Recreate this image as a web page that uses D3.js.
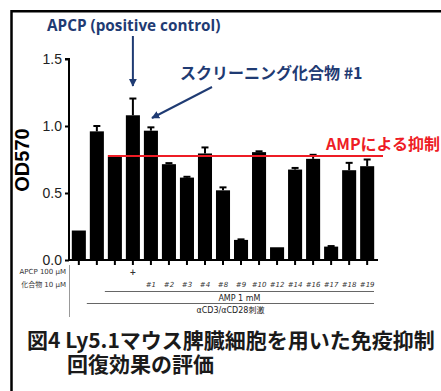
<!DOCTYPE html>
<html>
<head>
<meta charset="utf-8">
<script src="https://cdn.jsdelivr.net/npm/d3@7"></script>
<style>
  body { margin: 0; background: #fff; }
  svg { display: block; }
</style>
</head>
<body>
<div id="chart"></div>
<script>
// values (OD570, mean and error)
var groups = ["none", "stim", "AMP", "APCP", "#1", "#2", "#3", "#4", "#8", "#9", "#10", "#12", "#14", "#16", "#17", "#18", "#19"]
var od570 = [0.22, 0.96, 0.77, 1.08, 0.965, 0.715, 0.615, 0.795, 0.52, 0.15, 0.805, 0.095, 0.675, 0.755, 0.10, 0.67, 0.70]
var errs = [0, 0.04, 0, 0.125, 0.025, 0.008, 0.006, 0.045, 0.022, 0.004, 0.006, 0, 0.012, 0.03, 0.004, 0.055, 0.05]
var apcpRow = ["", "", "", "+", "", "", "", "", "", "", "", "", "", "", "", "", ""]
var compoundRow = ["", "", "", "", "#1", "#2", "#3", "#4", "#8", "#9", "#10", "#12", "#14", "#16", "#17", "#18", "#19"]
var yTicks = [0, 0.5, 1.0, 1.5]
var ampLevel = 0.776

var W = 441, H = 391
var navy = "#1f3b73", red = "#ee1c25"

var svg = d3.select("#chart").append("svg")
  .attr("width", W).attr("height", H)

// frame
svg.append("path")
  .attr("d", "M11.5,391V11.2H441")
  .attr("fill", "none").attr("stroke", "#000").attr("stroke-width", 2.5)

var x = d3.scaleBand()
  .domain(d3.range(groups.length))
  .range([70, 376])
  .paddingInner(0.22)
  .paddingOuter(0.1)

var y = d3.scaleLinear().domain([0, 1.5]).range([260, 59])

// y axis
var yAxis = svg.append("g")
  .attr("transform", "translate(69,0)")
  .call(d3.axisLeft(y).tickValues(yTicks).tickFormat(d3.format(".1f")).tickSize(4).tickPadding(3))
yAxis.select(".domain").attr("stroke-width", 2).attr("d", "M-4," + y(1.5) + "H0V" + y(0))
yAxis.selectAll(".tick line").attr("stroke-width", 2)
yAxis.selectAll(".tick text")
  .style("font-family", "Liberation Sans, Arial, sans-serif")
  .style("font-size", "14px").attr("fill", "#222")

svg.append("text")
  .attr("transform", "translate(29,160) rotate(-90)")
  .attr("text-anchor", "middle")
  .style("font-family", "Liberation Sans, Arial, sans-serif")
  .style("font-weight", "bold").style("font-size", "20px")
  .text("OD570")

// bars
svg.selectAll(".bar")
  .data(od570)
  .enter().append("rect")
  .attr("class", "bar")
  .attr("x", (d, i) => x(i))
  .attr("width", x.bandwidth())
  .attr("y", d => y(d))
  .attr("height", d => y(0) - y(d))
  .attr("fill", "#000")

// error bars
var eb = svg.selectAll(".err")
  .data(od570.map((v, i) => ({i: i, v: v, e: errs[i]})).filter(d => d.e > 0))
  .enter().append("g").attr("class", "err")
eb.append("line")
  .attr("x1", d => x(d.i) + x.bandwidth() / 2)
  .attr("x2", d => x(d.i) + x.bandwidth() / 2)
  .attr("y1", d => y(d.v))
  .attr("y2", d => y(d.v + d.e))
  .attr("stroke", "#000").attr("stroke-width", 2)
eb.append("line")
  .attr("x1", d => x(d.i) + x.bandwidth() / 2 - 3.5)
  .attr("x2", d => x(d.i) + x.bandwidth() / 2 + 3.5)
  .attr("y1", d => y(d.v + d.e))
  .attr("y2", d => y(d.v + d.e))
  .attr("stroke", "#000").attr("stroke-width", 2)

// x axis line and ticks
svg.append("line")
  .attr("x1", 68).attr("x2", 378)
  .attr("y1", y(0)).attr("y2", y(0))
  .attr("stroke", "#000").attr("stroke-width", 2)
svg.selectAll(".xt")
  .data(groups)
  .enter().append("line")
  .attr("x1", (d, i) => x(i) + x.bandwidth() / 2)
  .attr("x2", (d, i) => x(i) + x.bandwidth() / 2)
  .attr("y1", y(0)).attr("y2", y(0) + 5)
  .attr("stroke", "#000").attr("stroke-width", 2)

// AMP inhibition line
svg.append("line")
  .attr("x1", x(2)).attr("x2", 383)
  .attr("y1", y(ampLevel)).attr("y2", y(ampLevel))
  .attr("stroke", red).attr("stroke-width", 2)
svg.append("text")
  .attr("x", 326).attr("y", 150)
  .attr("fill", red)
  .style("font-family", "Noto Sans CJK JP, sans-serif")
  .style("font-weight", "bold").style("font-size", "16px")
  .text("AMPによる抑制")

// condition table under the axis
var small = "DejaVu Sans, Noto Sans CJK JP, sans-serif"
svg.append("line")
  .attr("x1", 69.5).attr("x2", 69.5).attr("y1", 265).attr("y2", 317)
  .attr("stroke", "#999").attr("stroke-width", 1)
svg.append("text").attr("x", 66).attr("y", 274).attr("text-anchor", "end")
  .style("font-family", small).style("font-size", "7px").attr("fill", "#333")
  .text("APCP 100 μM")
svg.append("text").attr("x", 66).attr("y", 287).attr("text-anchor", "end")
  .style("font-family", small).style("font-size", "7px").attr("fill", "#333")
  .text("化合物 10 μM")
svg.selectAll(".apcp").data(apcpRow).enter().append("text")
  .attr("x", (d, i) => x(i) + x.bandwidth() / 2).attr("y", 275)
  .attr("text-anchor", "middle")
  .style("font-family", small).style("font-size", "8px").style("font-weight", "bold").attr("fill", "#333")
  .text(d => d)
svg.selectAll(".cmp").data(compoundRow).enter().append("text")
  .attr("x", (d, i) => x(i) + x.bandwidth() / 2).attr("y", 287)
  .attr("text-anchor", "middle")
  .style("font-family", small).style("font-size", "7px").style("font-style", "italic").attr("fill", "#333")
  .text(d => d)

svg.append("line")
  .attr("x1", x(2) - 3).attr("x2", 374).attr("y1", 291.5).attr("y2", 291.5)
  .attr("stroke", "#666").attr("stroke-width", 1)
svg.append("text").attr("x", (x(2) - 3 + 374) / 2).attr("y", 300.5).attr("text-anchor", "middle")
  .style("font-family", small).style("font-size", "8px").attr("fill", "#222")
  .text("AMP 1 mM")
svg.append("line")
  .attr("x1", x(1) - 3).attr("x2", 374).attr("y1", 303.5).attr("y2", 303.5)
  .attr("stroke", "#666").attr("stroke-width", 1)
svg.append("text").attr("x", (x(1) - 3 + 374) / 2).attr("y", 313).attr("text-anchor", "middle")
  .style("font-family", small).style("font-size", "8px").attr("fill", "#222")
  .text("αCD3/αCD28刺激")

// annotations
var defs = svg.append("defs")
defs.append("marker")
  .attr("id", "ah").attr("viewBox", "0 0 10 10")
  .attr("refX", 9).attr("refY", 5)
  .attr("markerWidth", 4).attr("markerHeight", 4)
  .attr("orient", "auto")
  .append("path").attr("d", "M0,0L10,5L0,10z").attr("fill", navy)

svg.append("text")
  .attr("x", 47).attr("y", 31)
  .attr("fill", navy)
  .style("font-family", "Open Sans, sans-serif")
  .style("font-weight", "bold").style("font-size", "15.3px")
  .text("APCP (positive control)")
svg.append("line")
  .attr("x1", x(3) + x.bandwidth() / 2).attr("x2", x(3) + x.bandwidth() / 2)
  .attr("y1", 36).attr("y2", 86)
  .attr("stroke", navy).attr("stroke-width", 2)
  .attr("marker-end", "url(#ah)")

svg.append("text")
  .attr("x", 180).attr("y", 79)
  .attr("fill", navy)
  .style("font-family", "Noto Sans CJK JP, sans-serif")
  .style("font-weight", "bold").style("font-size", "16px")
  .text("スクリーニング化合物 #1")
svg.append("line")
  .attr("x1", 212).attr("x2", 152)
  .attr("y1", 87).attr("y2", 118)
  .attr("stroke", navy).attr("stroke-width", 2)
  .attr("marker-end", "url(#ah)")

// caption
svg.append("text")
  .attr("x", 27).attr("y", 348)
  .attr("fill", "#1a1a1a")
  .style("font-family", "Noto Sans CJK JP, sans-serif")
  .style("font-weight", "bold").style("font-size", "21px")
  .text("図4 Ly5.1マウス脾臓細胞を用いた免疫抑制")
svg.append("text")
  .attr("x", 67).attr("y", 372)
  .attr("fill", "#1a1a1a")
  .style("font-family", "Noto Sans CJK JP, sans-serif")
  .style("font-weight", "bold").style("font-size", "21px")
  .text("回復効果の評価")
</script>
</body>
</html>
